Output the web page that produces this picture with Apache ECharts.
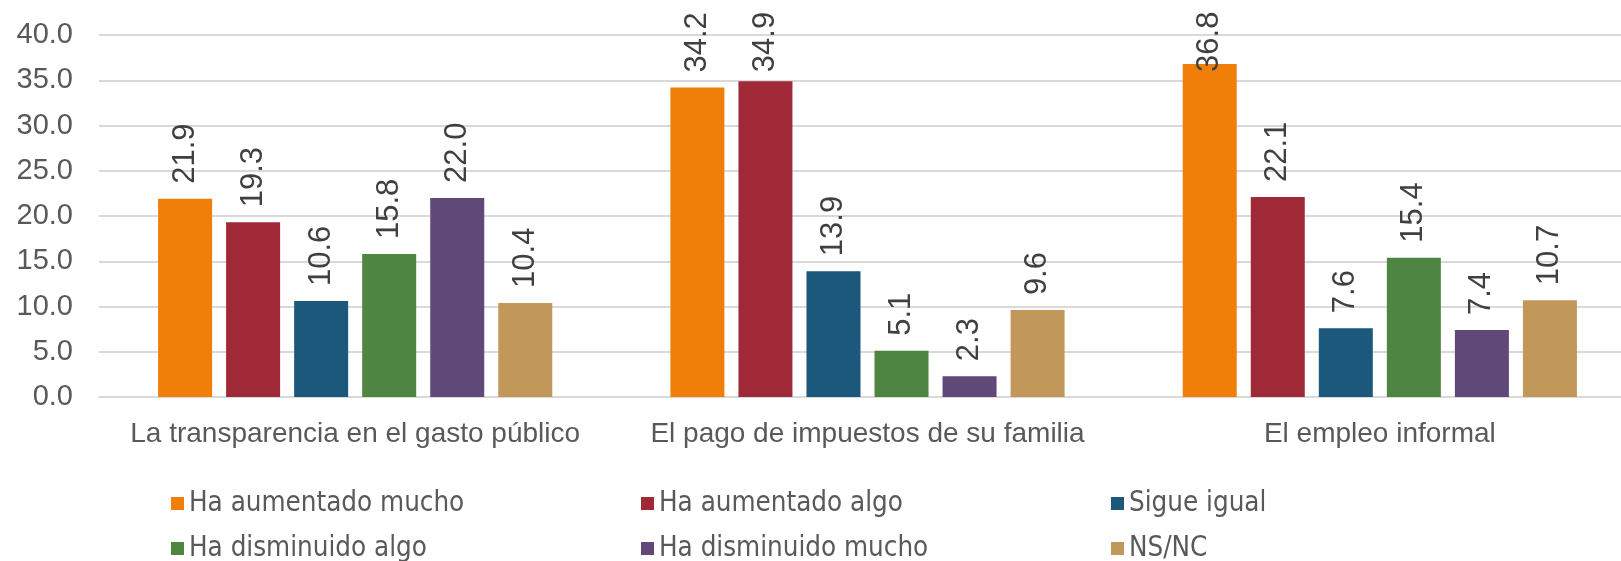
<!DOCTYPE html>
<html>
<head>
<meta charset="utf-8">
<script src="https://cdn.jsdelivr.net/npm/echarts@6/dist/echarts.min.js"></script>
<style>
  html, body { margin: 0; padding: 0; background: #ffffff; }
  #chart { width: 1621px; height: 561px; }
</style>
</head>
<body>
<div id="chart"></div>
<script>
const categories = ['La transparencia en el gasto público', 'El pago de impuestos de su familia', 'El empleo informal']
const seriesNames = ['Ha aumentado mucho', 'Ha aumentado algo', 'Sigue igual', 'Ha disminuido algo', 'Ha disminuido mucho', 'NS/NC']
const aumentadoMucho = [21.9, 34.2, 36.8]
const aumentadoAlgo = [19.3, 34.9, 22.1]
const sigueIgual = [10.6, 13.9, 7.6]
const disminuidoAlgo = [15.8, 5.1, 15.4]
const disminuidoMucho = [22.0, 2.3, 7.4]
const nsnc = [10.4, 9.6, 10.7]
const yTicks = [0, 5, 10, 15, 20, 25, 30, 35, 40]

const colorList = ['#F07F09', '#9F2936', '#1B587C', '#4E8542', '#604878', '#C19859']
const values = [aumentadoMucho, aumentadoAlgo, sigueIgual, disminuidoAlgo, disminuidoMucho, nsnc]

// Excel pushes labels down when they would run out of the chart area
function labelDistance(v) {
  if (v > 36) return -8
  if (v > 34.5) return 9
  return 15
}

const chart = echarts.init(document.getElementById('chart'))

const series = values.map((arr, index) => {
  return {
    name: seriesNames[index],
    type: 'bar',
    barWidth: 54,
    barGap: '26%',
    itemStyle: { color: colorList[index] },
    label: {
      show: true,
      position: 'top',
      rotate: 90,
      align: 'left',
      verticalAlign: 'middle',
      color: '#404040',
      fontFamily: 'Liberation Sans',
      fontSize: 31,
      formatter: p => p.value.toFixed(1)
    },
    data: arr.map(v => ({
      value: v,
      label: { distance: labelDistance(v) }
    }))
  }
})

chart.setOption({
  backgroundColor: '#ffffff',
  animation: false,
  legend: {
    data: seriesNames,
    left: 166,
    top: 476,
    width: 1430,
    itemWidth: 13,
    itemHeight: 13,
    itemGap: 0,
    icon: 'rect',
    textStyle: {
      fontFamily: ['DejaVu Sans Condensed', 'Liberation Sans Narrow', 'sans-serif'],
      fontSize: 27.5,
      color: '#595959',
      width: 452,
      lineHeight: 45
    }
  },
  grid: {
    left: 99,
    top: 35,
    width: 1537,
    bottom: 164,
    outerBoundsMode: 'none',
    containLabel: false
  },
  xAxis: {
    type: 'category',
    data: categories,
    axisLine: { lineStyle: { color: '#d9d9d9', width: 2 } },
    axisTick: { show: false },
    axisLabel: {
      interval: 0,
      margin: 23,
      color: '#595959',
      fontFamily: 'Liberation Sans',
      fontSize: 28
    }
  },
  yAxis: {
    type: 'value',
    min: yTicks[0],
    max: yTicks[yTicks.length - 1],
    interval: 5,
    axisLine: { show: false },
    axisTick: { show: false },
    axisLabel: {
      margin: 26,
      color: '#595959',
      fontFamily: 'Liberation Sans',
      fontSize: 29,
      formatter: v => v.toFixed(1)
    },
    splitLine: { lineStyle: { color: '#d9d9d9', width: 2 } }
  },
  series
})
</script>
</body>
</html>
